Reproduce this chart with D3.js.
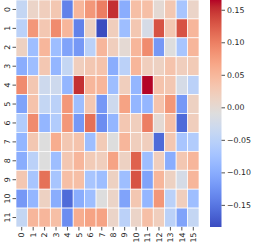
<!DOCTYPE html>
<html>
<head>
<meta charset="utf-8">
<script src="https://cdn.jsdelivr.net/npm/d3@7"></script>
<style>
body { margin: 0; background: #fff; }
text { font-family: "DejaVu Sans", sans-serif; font-size: 7.8px; fill: #262626; }
</style>
</head>
<body>
<script>
// labels
var xLabels = d3.range(16).map(String);
var yLabels = d3.range(12).map(String);

// cell values, one array per row
var row0 = [-0.04, 0.01, 0.02, 0.03, -0.14, 0.05, 0.08, 0.10, 0.15, -0.10, 0.04, 0.04, 0.00, 0.03, -0.07, 0.01];
var row1 = [-0.05, 0.08, 0.03, 0.09, 0.05, -0.14, 0.015, -0.184, 0.02, -0.08, 0.03, -0.02, 0.13, 0.03, 0.13, 0.05];
var row2 = [0.015, -0.08, 0.05, -0.08, -0.11, -0.12, -0.05, 0.05, 0.02, 0.0, 0.05, 0.09, -0.12, -0.01, -0.07, 0.05];
var row3 = [-0.10, -0.08, 0.03, -0.09, -0.04, 0.02, 0.03, 0.035, -0.10, -0.05, 0.05, 0.02, 0.015, 0.035, 0.02, 0.025];
var row4 = [0.09, 0.03, -0.03, -0.03, -0.09, 0.15, 0.05, 0.05, -0.08, 0.02, -0.09, 0.165, 0.035, 0.03, -0.02, -0.05];
var row5 = [-0.11, 0.035, -0.04, -0.05, 0.08, -0.08, 0.03, -0.12, -0.03, 0.07, -0.09, -0.09, 0.035, 0.08, -0.12, 0.015];
var row6 = [-0.06, 0.09, -0.09, -0.06, 0.08, -0.12, 0.11, -0.13, -0.09, 0.03, 0.02, 0.10, 0.0, 0.04, -0.16, 0.02];
var row7 = [-0.09, 0.03, -0.01, 0.06, 0.03, 0.035, -0.08, 0.025, -0.01, 0.05, 0.02, 0.02, -0.16, 0.03, -0.07, -0.06];
var row8 = [-0.10, -0.05, -0.01, -0.08, 0.03, 0.05, 0.025, 0.02, 0.07, 0.015, 0.12, -0.08, 0.02, -0.10, 0.03, 0.05];
var row9 = [0.03, -0.07, 0.11, -0.07, 0.04, 0.04, -0.07, -0.08, 0.015, -0.08, 0.13, -0.11, 0.05, 0.015, -0.02, 0.05];
var row10 = [-0.12, -0.09, 0.015, -0.10, -0.16, -0.10, -0.08, -0.01, 0.01, -0.11, 0.03, -0.09, 0.08, -0.05, 0.02, -0.08];
var row11 = [-0.04, 0.05, 0.05, 0.04, -0.13, 0.06, 0.07, 0.07, 0.01, -0.05, 0.01, 0.04, 0.02, -0.05, -0.11, -0.04];
var rows = [row0, row1, row2, row3, row4, row5, row6, row7, row8, row9, row10, row11];

// colorbar ticks
var cbTicks = [-0.15, -0.10, -0.05, 0.00, 0.05, 0.10, 0.15];

// coolwarm colormap (Moreland table)
var coolwarm = [
 [59,76,192],[68,90,204],[77,104,215],[87,117,225],[98,130,234],[108,142,241],
 [119,154,247],[130,165,251],[141,176,254],[152,185,255],[163,194,255],[174,201,253],
 [184,208,249],[194,213,244],[204,217,238],[213,219,230],[221,221,221],[229,216,209],
 [236,211,197],[241,204,185],[245,196,173],[247,187,160],[247,177,148],[247,166,135],
 [244,154,123],[241,141,111],[236,127,99],[229,112,88],[222,96,77],[213,80,66],
 [203,62,56],[192,40,47],[180,4,38]
].map(function(c){ return d3.rgb(c[0], c[1], c[2]).toString(); });
var interp = d3.interpolateRgbBasis ? d3.piecewise(d3.interpolateRgb, coolwarm) : null;

var flat = [];
rows.forEach(function(r, i){ r.forEach(function(v, j){ flat.push({r: i, c: j, v: v}); }); });
var ext = d3.extent(flat, function(d){ return d.v; });
var color = d3.scaleSequential(interp).domain(ext);

var width = 257, height = 245;
var svg = d3.select('body').append('svg').attr('width', width).attr('height', height);

var x = d3.scaleBand().domain(xLabels).range([16, 199]);
var y = d3.scaleBand().domain(yLabels).range([0, 227]);

// cells
svg.append('g').selectAll('rect').data(flat).join('rect')
  .attr('x', function(d){ return x(xLabels[d.c]); })
  .attr('y', function(d){ return y(yLabels[d.r]); })
  .attr('width', x.bandwidth())
  .attr('height', y.bandwidth())
  .attr('fill', function(d){ return color(d.v); })
  .attr('stroke', '#fff').attr('stroke-width', 0.7);

// x axis
var gx = svg.append('g');
xLabels.forEach(function(l){
  var cx = x(l) + x.bandwidth() / 2;
  gx.append('line').attr('x1', cx).attr('x2', cx).attr('y1', 227).attr('y2', 230.5)
    .attr('stroke', '#262626').attr('stroke-width', 0.8);
  gx.append('text').attr('transform', 'translate(' + cx + ',232.5) rotate(-90)')
    .attr('text-anchor', 'end').attr('dy', '0.35em').text(l);
});

// y axis
var gy = svg.append('g');
yLabels.forEach(function(l){
  var cy = y(l) + y.bandwidth() / 2;
  gy.append('line').attr('x1', 12.5).attr('x2', 16).attr('y1', cy).attr('y2', cy)
    .attr('stroke', '#262626').attr('stroke-width', 0.8);
  gy.append('text').attr('transform', 'translate(10.5,' + cy + ') rotate(-90)')
    .attr('text-anchor', 'middle').attr('dy', '-0.1em').text(l);
});

// colorbar
var defs = svg.append('defs');
var grad = defs.append('linearGradient').attr('id', 'cb')
  .attr('x1', 0).attr('x2', 0).attr('y1', 1).attr('y2', 0);
coolwarm.forEach(function(c, i){
  grad.append('stop').attr('offset', i / (coolwarm.length - 1)).attr('stop-color', c);
});
var cbX = 210, cbW = 11.5;
var cy = d3.scaleLinear().domain(ext).range([227, 0]);
svg.append('rect').attr('x', cbX).attr('y', 0).attr('width', cbW).attr('height', 227)
  .attr('fill', 'url(#cb)');
var cbAxis = d3.axisRight(cy).tickValues(cbTicks).tickFormat(d3.format('.2f')).tickSize(3.5).tickPadding(2);
var gcb = svg.append('g').attr('transform', 'translate(' + (cbX + cbW) + ',0)').call(cbAxis);
gcb.select('.domain').remove();
gcb.selectAll('line').attr('stroke', '#262626').attr('stroke-width', 0.8);
gcb.selectAll('text').attr('font-family', null).attr('font-size', null).attr('fill', null);
</script>
</body>
</html>
